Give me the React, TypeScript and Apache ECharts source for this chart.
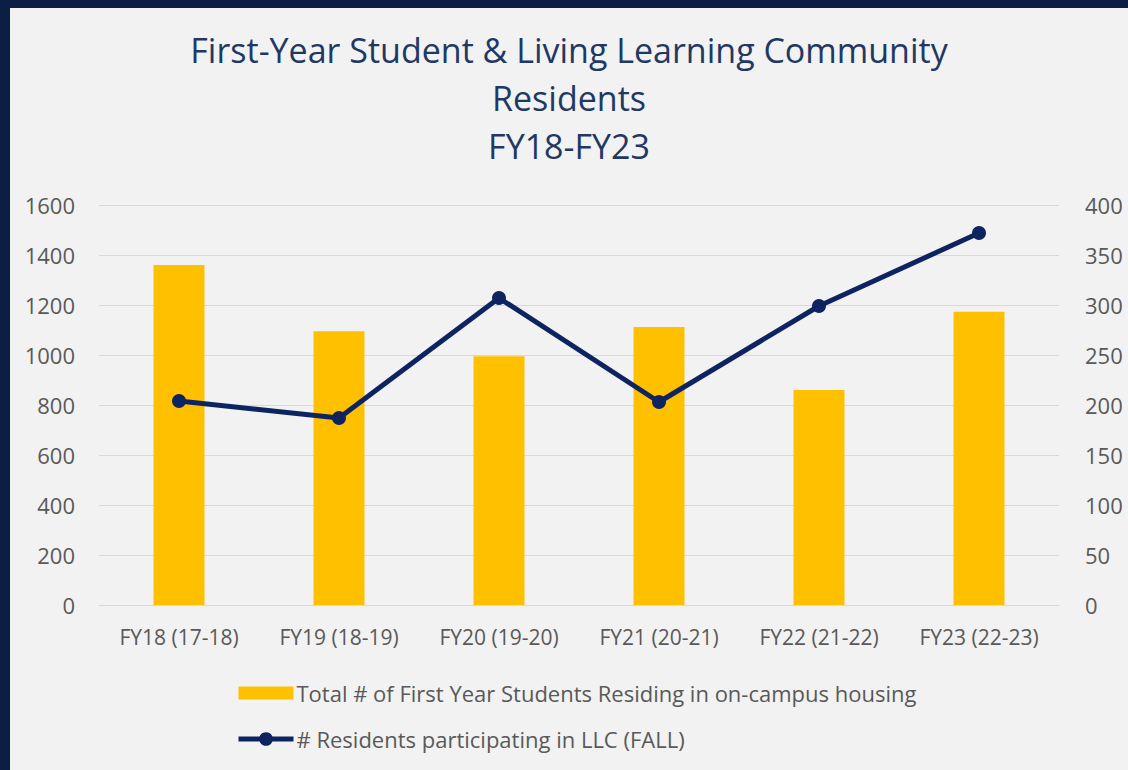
import React, { useEffect, useRef } from "react";
import * as echarts from "echarts";

const categories = ["FY18 (17-18)", "FY19 (18-19)", "FY20 (19-20)", "FY21 (20-21)", "FY22 (21-22)", "FY23 (22-23)"];
const firstYearTotals = [1360, 1095, 995, 1112, 860, 1173];
const llcResidents = [204, 187, 307, 203, 299, 372];
const barName = "Total # of First Year Students Residing in on-campus housing";
const lineName = "# Residents participating in LLC (FALL)";
const titleText = "First-Year Student & Living Learning Community\nResidents\nFY18-FY23";

export default function App() {
  const ref = useRef<HTMLDivElement>(null);
  useEffect(() => {
    if (!ref.current) return;
    const chart = echarts.init(ref.current, null, { renderer: "svg" });
    const font = "Open Sans";
    chart.setOption({
      animation: false,
      backgroundColor: "#f2f2f2",
      textStyle: { fontFamily: font },
      title: {
        text: titleText,
        left: "center",
        top: 13,
        textStyle: { fontFamily: font, fontSize: 34, fontWeight: "normal", color: "#1f3864", lineHeight: 48 },
      },
      legend: {
        orient: "vertical",
        left: 221,
        top: 669,
        itemWidth: 55,
        itemHeight: 17,
        itemGap: 24,
        symbolKeepAspect: true,
        lineStyle: { width: 5 },
        textStyle: { fontFamily: font, fontSize: 22, color: "#595959", padding: [0, 0, 0, -2] },
        data: [
          { name: barName, icon: "path://M0,0H55V13H0Z" },
          { name: lineName },
        ],
      },
      grid: { left: 89, right: 69, top: 197, bottom: 165 },
      xAxis: {
        type: "category",
        data: categories,
        axisLine: { lineStyle: { color: "#d9d9d9", width: 1 } },
        axisTick: { show: false },
        axisLabel: { color: "#595959", fontSize: 21, fontFamily: font, margin: 21, interval: 0 },
      },
      yAxis: [
        {
          type: "value",
          min: 0,
          max: 1600,
          interval: 200,
          axisLine: { show: false },
          axisTick: { show: false },
          splitLine: { lineStyle: { color: "#d9d9d9", width: 1 } },
          axisLabel: { color: "#595959", fontSize: 22, fontFamily: font, margin: 24, formatter: (v: number) => String(v) },
        },
        {
          type: "value",
          min: 0,
          max: 400,
          interval: 50,
          axisLine: { show: false },
          axisTick: { show: false },
          splitLine: { show: false },
          axisLabel: { color: "#595959", fontSize: 22, fontFamily: font, margin: 26, formatter: (v: number) => String(v) },
        },
      ],
      series: [
        {
          name: barName,
          type: "bar",
          data: firstYearTotals,
          barWidth: 51,
          itemStyle: { color: "#ffc000" },
        },
        {
          name: lineName,
          type: "line",
          yAxisIndex: 1,
          data: llcResidents,
          symbol: "circle",
          symbolSize: 14,
          lineStyle: { color: "#0e2461", width: 5 },
          itemStyle: { color: "#0e2461" },
        },
      ],
    });
    return () => chart.dispose();
  }, []);
  return (
    <div style={{ position: "absolute", left: 0, top: 0, width: 1128, height: 770, background: "#0b1e44" }}>
      <div ref={ref} style={{ position: "absolute", left: 10, top: 8, width: 1118, height: 762 }} />
    </div>
  );
}
